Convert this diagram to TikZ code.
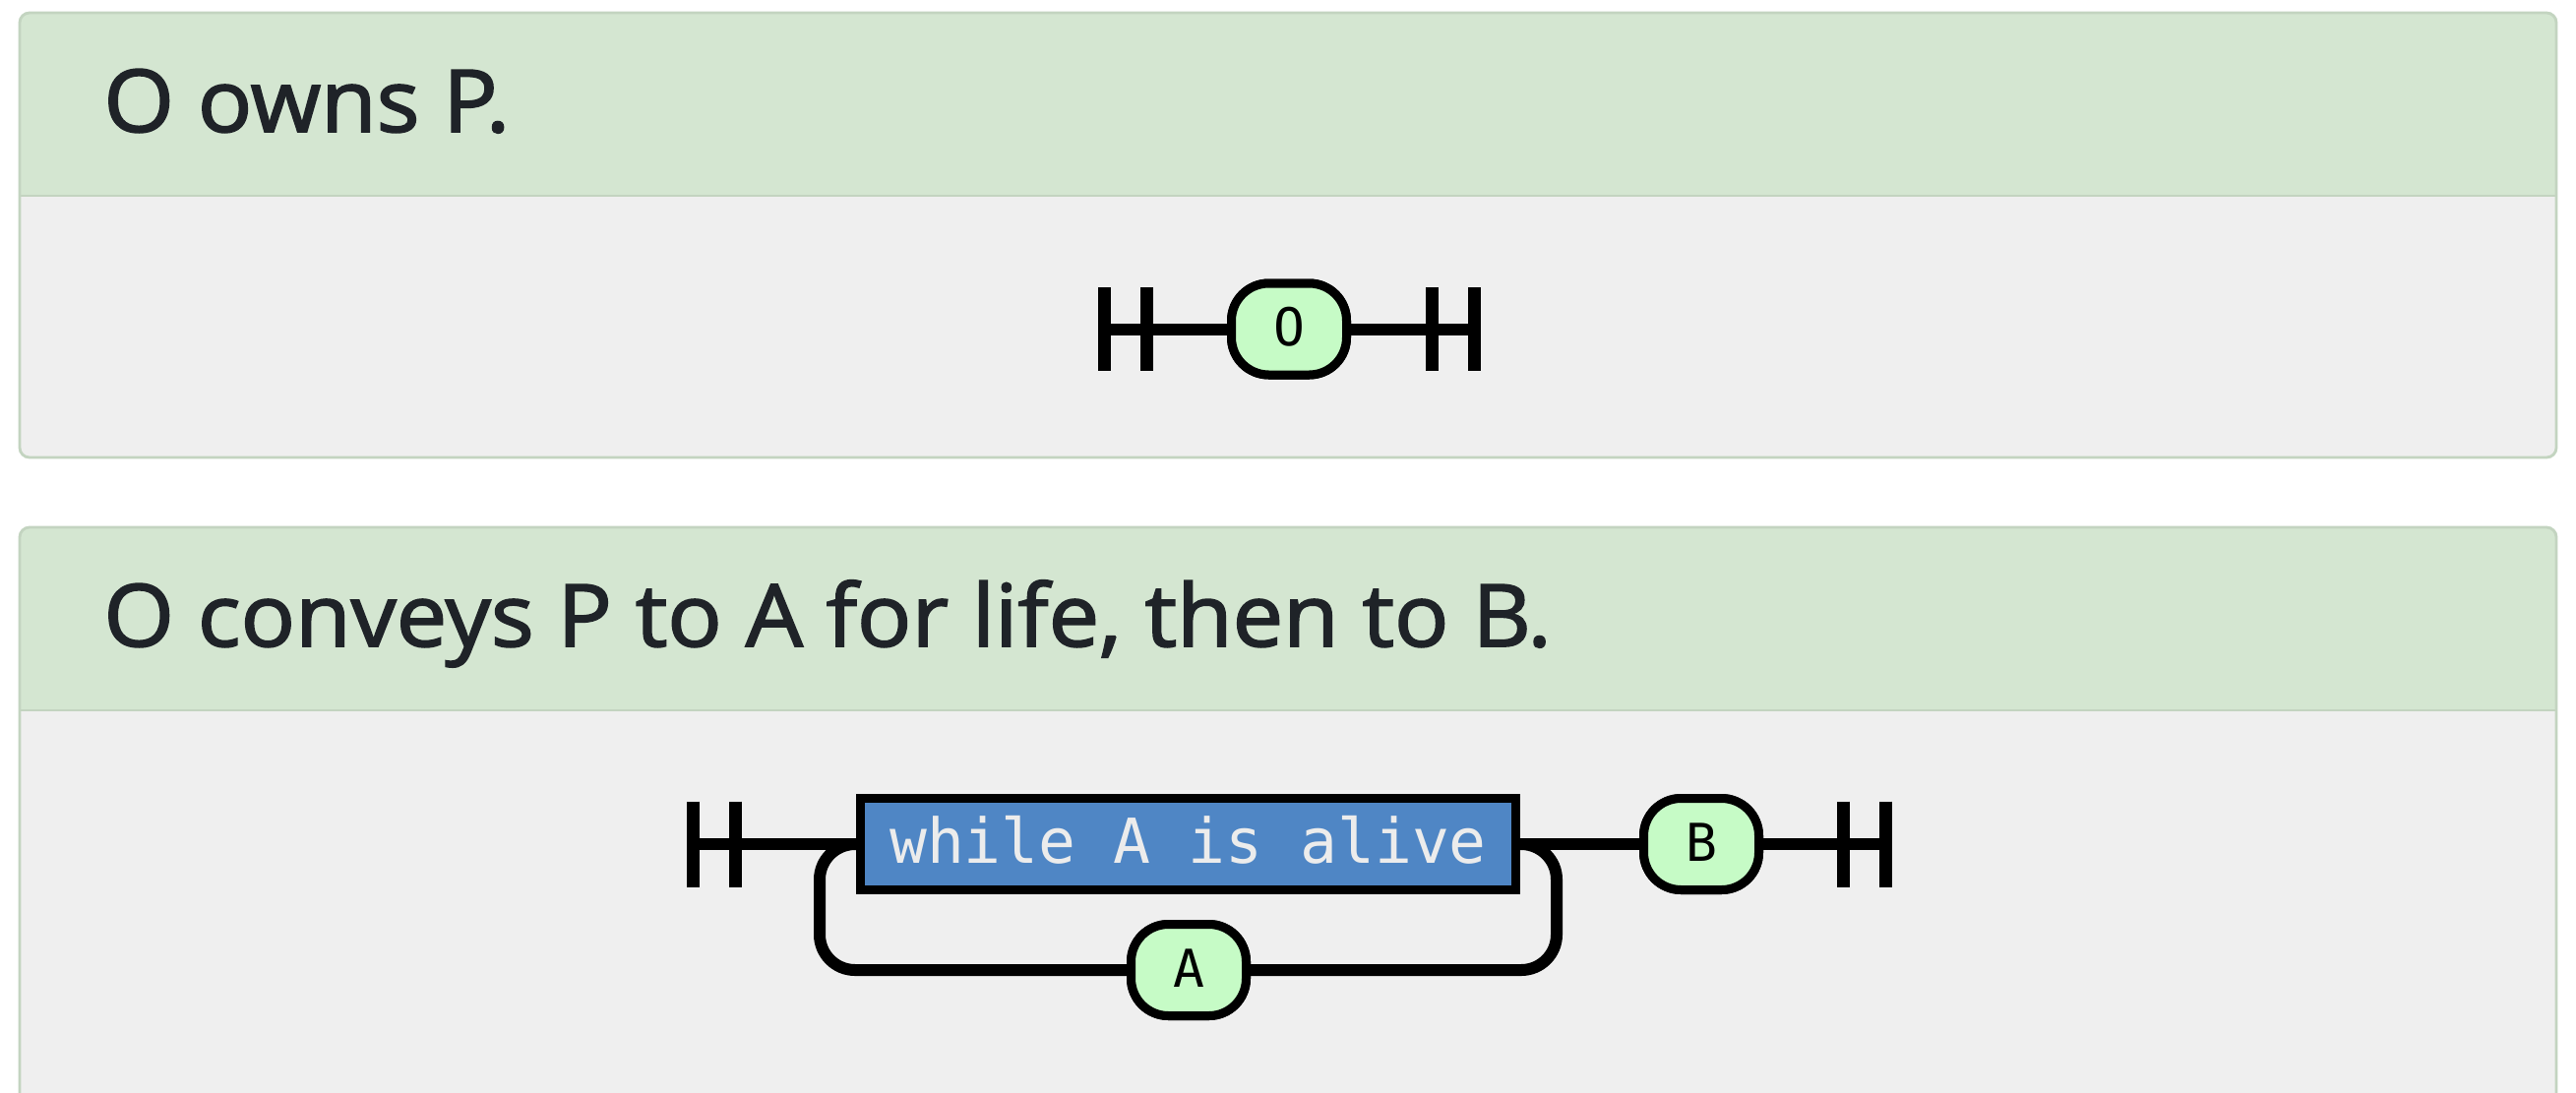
\documentclass[tikz,border=0pt]{standalone}
\usepackage{fontspec}
\setmainfont{Open Sans}
\newfontfamily\headf{Open Sans}[FakeBold=2, FakeStretch=1.045]
\newfontfamily\monof{DejaVu Sans Mono}
\definecolor{hdrgreen}{RGB}{212,230,209}
\definecolor{bodygray}{RGB}{239,239,239}
\definecolor{cardline}{RGB}{195,212,192}
\definecolor{inktext}{RGB}{31,35,40}
\definecolor{pillgreen}{RGB}{198,251,198}
\definecolor{boxblue}{RGB}{79,134,197}
\definecolor{boxtext}{RGB}{236,236,236}
\tikzset{
  rail/.style={line width=6pt, black},
  termbar/.style={line width=6.5pt, black},
  pill/.style={draw=black, fill=pillgreen, line width=4.5pt, rounded corners=19pt,
    minimum width=58.5pt, minimum height=46.5pt, inner sep=0pt,
    font=\monof\fontsize{26pt}{30pt}\selectfont},
  pilltext/.style={anchor=base, inner sep=0pt, font=\monof\fontsize{26.5pt}{30pt}\selectfont},
  condbox/.style={draw=black, fill=boxblue, line width=4.5pt,
    minimum width=333pt, minimum height=46.5pt, inner sep=0pt},
  condtext/.style={anchor=base, inner sep=0pt, text=boxtext,
    font=\monof\fontsize{31.5pt}{36pt}\selectfont},
  heading/.style={anchor=base west, inner sep=0pt, text=inktext,
    font=\headf\fontsize{44pt}{52pt}\selectfont},
  card/.style={rounded corners=5pt}
}
\begin{document}
\begin{tikzpicture}[x=0.5pt,y=-0.5pt]
\useasboundingbox (0,0) rectangle (2618,1110);
\clip (0,0) rectangle (2618,1110);
\fill[white] (0,0) rectangle (2618,1110);

% ---------- card 1 ----------
\fill[bodygray, card] (20,13) rectangle (2598,465);
\begin{scope}
  \clip[card] (20,13) rectangle (2598,465);
  \fill[hdrgreen] (20,13) rectangle (2598,199);
\end{scope}
\draw[cardline, line width=1.4pt] (20,199) -- (2598,199);
\draw[cardline, line width=1.4pt, card] (20,13) rectangle (2598,465);
\node[heading] (h1) at (105,134) {O owns P.};

% ---------- card 2 ----------
\fill[bodygray, card] (20,536) rectangle (2598,1200);
\begin{scope}
  \clip[card] (20,536) rectangle (2598,1200);
  \fill[hdrgreen] (20,536) rectangle (2598,722);
\end{scope}
\draw[cardline, line width=1.4pt] (20,722) -- (2598,722);
\draw[cardline, line width=1.4pt, card] (20,536) rectangle (2598,1200);
\node[heading] (h2) at (105,657) {O conveys P to A for life, then to B.};

% ---------- diagram 1 ----------
\coordinate (s1a) at (1122.5,334.5);
\coordinate (s1b) at (1165.5,334.5);
\coordinate (e1a) at (1455.5,334.5);
\coordinate (e1b) at (1498,334.5);
\node[pill] (O) at (1310,334.5) {};
\draw[rail] (s1a) -- (O.west);
\draw[rail] (O.east) -- (e1b);
\node[pill] (O) at (1310,334.5) {};
\node[pilltext] (Ot) at (1310,351) {O};
\foreach \c in {s1a,s1b,e1a,e1b}{
  \draw[termbar] (\c) ++(0,-42.5) -- ++(0,85);
}

% ---------- diagram 2 ----------
\coordinate (s2a) at (704,858);
\coordinate (s2b) at (747,858);
\coordinate (e2a) at (1873.5,858);
\coordinate (e2b) at (1916.5,858);
\coordinate (lx) at (833,986);
\coordinate (rx) at (1582,986);
\node[condbox] (W) at (1207.5,858) {};
\node[pill] (B) at (1729,858) {};
\node[pill] (A) at (1208,986) {};
\draw[rail] (s2a) -- (W.west);
\draw[rail] (W.east) -- (B.west);
\draw[rail] (B.east) -- (e2b);
\draw[rail, rounded corners=18pt] (W.west) -| (lx) -- (A.west);
\draw[rail, rounded corners=18pt] (A.east) -- (rx) |- (W.east);
\node[condbox] (W) at (1207.5,858) {};
\node[condtext] (Wt) at (1207.5,877) {while A is alive};
\node[pill] (B) at (1729,858) {};
\node[pilltext] (Bt) at (1729,875) {B};
\node[pill] (A) at (1208,986) {};
\node[pilltext] (At) at (1208,1003) {A};
\foreach \c in {s2a,s2b,e2a,e2b}{
  \draw[termbar] (\c) ++(0,-43.5) -- ++(0,87);
}
\end{tikzpicture}
\end{document}
